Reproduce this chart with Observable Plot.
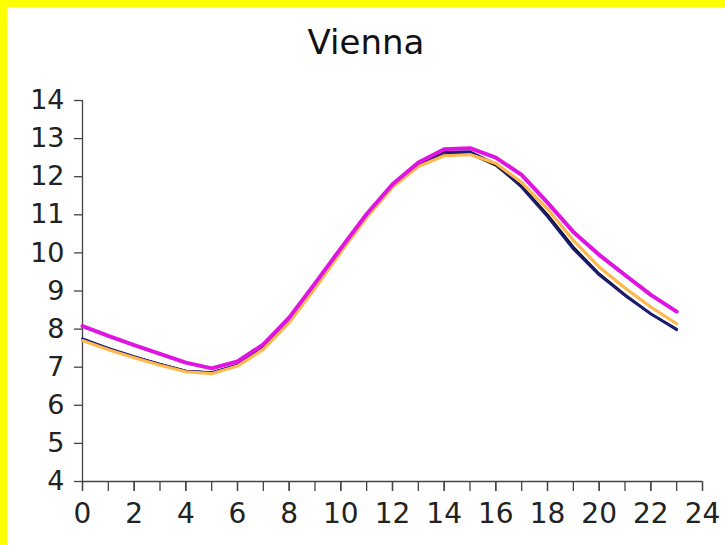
<!DOCTYPE html>
<html>
<head>
<meta charset="utf-8">
<script src="https://cdn.jsdelivr.net/npm/d3@7"></script>
<script src="https://cdn.jsdelivr.net/npm/@observablehq/plot@0.6"></script>
<style>
  html, body { margin: 0; padding: 0; background: #ffffff; }
  #page { position: absolute; left: 0; top: 0; width: 725px; height: 545px; background: #fff; }
  #ybar { position: absolute; left: 0; top: 0; width: 7px; height: 545px; background: #ffff00; }
  #xbar { position: absolute; left: 0; top: 0; width: 725px; height: 7px; background: #ffff00; }
  #wrap { position: absolute; left: 7px; top: 7px; width: 718px; }
  #title { height: 70px; line-height: 70px; text-align: center; font-family: "DejaVu Sans", sans-serif; font-size: 34px; color: #111; box-sizing: border-box; }
  svg { display: block; }
</style>
</head>
<body>
<div id="page">
  <div id="ybar"></div>
  <div id="xbar"></div>
  <div id="wrap">
    <div id="title">Vienna</div>
    <div id="chart"></div>
  </div>
</div>
<script>
const hours = d3.range(0, 24);
const seriesNames = ["black", "navy", "orange", "magenta"];
const seriesColors = ["#111111", "#1c1c78", "#ffb84d", "#e014e0"];
const seriesWidths = [2.6, 2.6, 3.2, 4];
const blackValues = [7.72, 7.48, 7.27, 7.08, 6.9, 6.85, 7.05, 7.5, 8.2, 9.1, 10.05, 10.95, 11.75, 12.3, 12.58, 12.6, 12.3, 11.75, 11.0, 10.15, 9.45, 8.9, 8.4, 8.0];
const navyValues = [7.75, 7.5, 7.28, 7.08, 6.9, 6.86, 7.06, 7.52, 8.22, 9.12, 10.06, 10.97, 11.77, 12.33, 12.65, 12.66, 12.33, 11.72, 10.95, 10.1, 9.42, 8.88, 8.4, 7.98];
const orangeValues = [7.7, 7.46, 7.25, 7.05, 6.88, 6.83, 7.03, 7.47, 8.17, 9.07, 10.02, 10.93, 11.72, 12.27, 12.55, 12.58, 12.35, 11.85, 11.15, 10.33, 9.63, 9.08, 8.58, 8.14];
const magentaValues = [8.08, 7.82, 7.58, 7.35, 7.12, 6.97, 7.15, 7.6, 8.3, 9.2, 10.12, 11.02, 11.8, 12.37, 12.72, 12.75, 12.5, 12.05, 11.32, 10.55, 9.95, 9.42, 8.9, 8.46];
const xTicksMinor = d3.range(0, 25, 1);
const xTicksMajor = d3.range(0, 25, 2);
const yTicks = d3.range(4, 15, 1);

const allValues = [blackValues, navyValues, orangeValues, magentaValues];
const rows = [];
seriesNames.forEach((name, i) => {
  hours.forEach((h, j) => rows.push({series: name, hour: h, value: allValues[i][j]}));
});

const font = "DejaVu Sans, sans-serif";
const plot = Plot.plot({
  width: 718,
  height: 468,
  marginTop: 23,
  marginLeft: 75,
  marginRight: 23,
  marginBottom: 64,
  style: {fontFamily: font, fontSize: "27px", color: "#222", background: "#fff"},
  x: {domain: [0, 24]},
  y: {domain: [4, 14]},
  marks: [
    Plot.axisX({ticks: xTicksMinor, tickSize: 10, tickFormat: () => "", stroke: "#444", strokeWidth: 1.3, label: null}),
    Plot.axisX({ticks: xTicksMajor, tickSize: 10, tickPadding: 12, stroke: "#444", strokeWidth: 1.3, label: null, fontSize: 28}),
    Plot.axisY({ticks: yTicks, tickSize: 8, tickPadding: 10, stroke: "#444", strokeWidth: 1.3, label: null, fontSize: 27}),
    Plot.ruleY([4], {stroke: "#444", strokeWidth: 1.3}),
    Plot.ruleX([0], {stroke: "#444", strokeWidth: 1.3}),
    ...seriesNames.map((name, i) => Plot.line(rows.filter(r => r.series === name), {
      x: "hour", y: "value", stroke: seriesColors[i], strokeWidth: seriesWidths[i], strokeLinejoin: "round", strokeLinecap: "round"
    }))
  ]
});
document.getElementById("chart").appendChild(plot);
</script>
</body>
</html>
